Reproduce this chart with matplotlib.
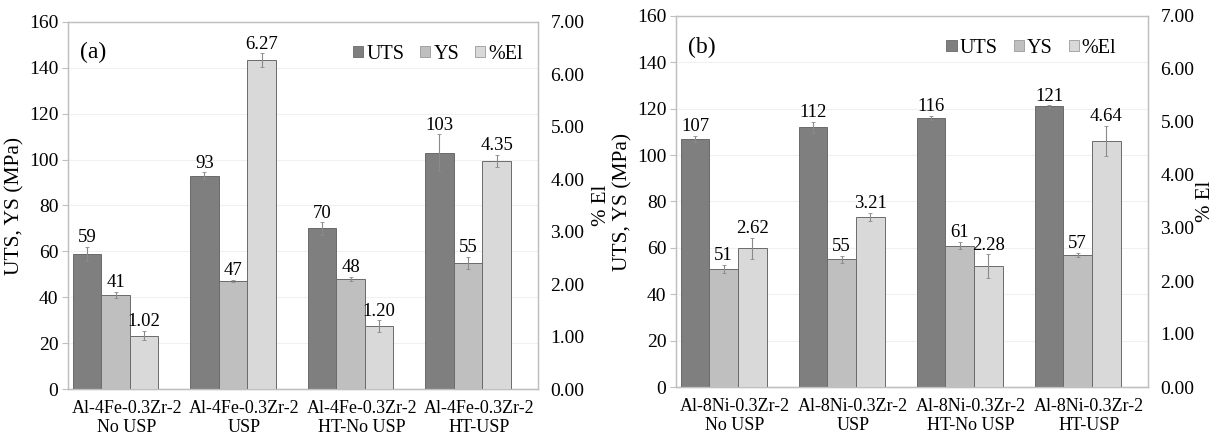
import matplotlib.pyplot as plt
from matplotlib.patches import Patch
from matplotlib.ticker import FormatStrFormatter
import numpy as np

plt.rcParams['font.family'] = ['Liberation Serif', 'DejaVu Serif']

# panel (a): Al-4Fe-0.3Zr-2
cats_a = ["Al-4Fe-0.3Zr-2\nNo USP", "Al-4Fe-0.3Zr-2\nUSP",
          "Al-4Fe-0.3Zr-2\nHT-No USP", "Al-4Fe-0.3Zr-2\nHT-USP"]
uts_a = [59, 93, 70, 103]
uts_err_a = [3, 1.5, 2.7, 8]
ys_a = [41, 47, 48, 55]
ys_err_a = [1.5, 0.5, 1, 2.5]
el_a = [1.02, 6.27, 1.20, 4.35]
el_err_a = [0.09, 0.13, 0.11, 0.11]

# panel (b): Al-8Ni-0.3Zr-2
cats_b = ["Al-8Ni-0.3Zr-2\nNo USP", "Al-8Ni-0.3Zr-2\nUSP",
          "Al-8Ni-0.3Zr-2\nHT-No USP", "Al-8Ni-0.3Zr-2\nHT-USP"]
uts_b = [107, 112, 116, 121]
uts_err_b = [1.3, 2.5, 1, 0.5]
ys_b = [51, 55, 61, 57]
ys_err_b = [1.7, 1.5, 1.5, 1]
el_b = [2.62, 3.21, 2.28, 4.64]
el_err_b = [0.2, 0.08, 0.22, 0.29]

C_UTS = '#7f7f7f'
C_YS = '#bfbfbf'
C_EL = '#d9d9d9'
EDGE = '#6a6a6a'
ERR = '#8a8a8a'
FRAME = '#bfbfbf'
FS = 13.5


def panel(rect, tag, cats, uts, uts_err, ys, ys_err, el, el_err, leg_x, rpad):
    ax = fig.add_axes(rect)
    ax2 = ax.twinx()
    x = np.arange(len(cats))
    w = 0.243
    first = -0.46 + w / 2
    ekw = dict(ecolor=ERR, elinewidth=0.8, capsize=1.2, capthick=0.6)

    ax.bar(x + first, uts, w, yerr=uts_err, color=C_UTS, edgecolor=EDGE,
           linewidth=0.7, error_kw=ekw, zorder=3)
    ax.bar(x + first + w, ys, w, yerr=ys_err, color=C_YS, edgecolor=EDGE,
           linewidth=0.7, error_kw=ekw, zorder=3)
    ax2.bar(x + first + 2 * w, el, w, yerr=el_err, color=C_EL, edgecolor=EDGE,
            linewidth=0.7, error_kw=ekw, zorder=3)

    for xi, v, e in zip(x + first, uts, uts_err):
        ax.annotate(f"{v}", (xi, v + e), xytext=(0, 0.5), textcoords='offset points',
                    ha='center', va='bottom', fontsize=FS, zorder=5)
    for xi, v, e in zip(x + first + w, ys, ys_err):
        ax.annotate(f"{v}", (xi, v + e), xytext=(0, 0.5), textcoords='offset points',
                    ha='center', va='bottom', fontsize=FS, zorder=5)
    for xi, v, e in zip(x + first + 2 * w, el, el_err):
        ax2.annotate(f"{v:.2f}", (xi, v + e), xytext=(0, 0.5), textcoords='offset points',
                     ha='center', va='bottom', fontsize=FS, zorder=5)

    ax.set_xlim(-0.5, len(cats) - 0.5)
    ax.set_ylim(0, 160)
    ax.set_yticks(np.arange(0, 161, 20))
    ax2.set_ylim(0, 7)
    ax2.set_yticks(np.arange(0, 7.01, 1))
    ax2.yaxis.set_major_formatter(FormatStrFormatter('%.2f'))
    ax.set_xticks(x)
    ax.set_xticklabels(cats, fontsize=13, linespacing=1.15)
    ax.tick_params(axis='x', length=0, pad=8)
    ax.tick_params(axis='y', labelsize=14, length=4, color=FRAME, pad=3)
    ax2.tick_params(axis='y', labelsize=14, length=0, pad=9)

    ax.yaxis.grid(True, color='#f0f0f0', linewidth=0.8, zorder=0)
    ax.set_axisbelow(True)
    for a in (ax, ax2):
        for s in a.spines.values():
            s.set_color(FRAME)
            s.set_linewidth(0.9)
    ax.spines['bottom'].set_color('#a0a0a0')

    ax.set_ylabel("UTS, YS (MPa)", fontsize=15.5, labelpad=3)
    ax2.set_ylabel("% El", fontsize=15, labelpad=rpad)

    ax.text(0.025, 0.945, tag, transform=ax.transAxes, fontsize=17,
            ha='left', va='top')

    handles = [Patch(facecolor=C_UTS, edgecolor=EDGE, linewidth=0.6, label='UTS'),
               Patch(facecolor=C_YS, edgecolor='#9a9a9a', linewidth=0.6, label='YS'),
               Patch(facecolor=C_EL, edgecolor='#9a9a9a', linewidth=0.6, label='%El')]
    ax2.legend(handles=handles, loc='upper right', bbox_to_anchor=(leg_x, 0.96),
               ncol=3, frameon=False, fontsize=14.5, handlelength=0.5,
               handleheight=0.5, handletextpad=0.15, columnspacing=0.8,
               borderaxespad=0)
    return ax, ax2


fig = plt.figure(figsize=(12.18, 4.4), dpi=100)

panel([68 / 1218, 51 / 440, 470 / 1218, 367 / 440], "(a)",
      cats_a, uts_a, uts_err_a, ys_a, ys_err_a, el_a, el_err_a, 0.985, 5)
panel([676 / 1218, 53 / 440, 472 / 1218, 371 / 440], "(b)",
      cats_b, uts_b, uts_err_b, ys_b, ys_err_b, el_b, el_err_b, 0.95, 1)

fig.savefig("out.png", dpi=100)
